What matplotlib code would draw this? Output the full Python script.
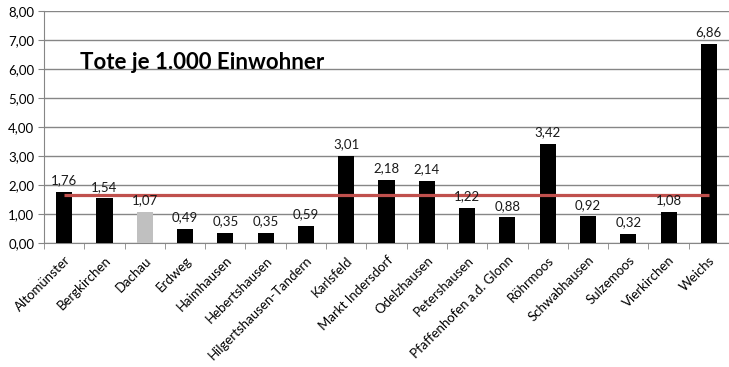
import matplotlib
matplotlib.use('Agg')
import matplotlib.pyplot as plt

# data
gemeinden = ['Altomünster', 'Bergkirchen', 'Dachau', 'Erdweg', 'Haimhausen',
             'Hebertshausen', 'Hilgertshausen-Tandern', 'Karlsfeld',
             'Markt Indersdorf', 'Odelzhausen', 'Petershausen',
             'Pfaffenhofen a.d. Glonn', 'Röhrmoos', 'Schwabhausen',
             'Sulzemoos', 'Vierkirchen', 'Weichs']
tote_je_1000 = [1.76, 1.54, 1.07, 0.49, 0.35, 0.35, 0.59, 3.01, 2.18, 2.14,
                1.22, 0.88, 3.42, 0.92, 0.32, 1.08, 6.86]
durchschnitt = 1.66  # red reference line (county average)
y_ticks = [0, 1, 2, 3, 4, 5, 6, 7, 8]

plt.rcParams['font.family'] = ['Lato', 'DejaVu Sans']

fig = plt.figure(figsize=(7.29, 3.67), dpi=100)
ax = fig.add_axes([0.0604, 0.338, 0.9396, 0.632])

colors = ['#c0c0c0' if g == 'Dachau' else 'black' for g in gemeinden]
x = list(range(len(gemeinden)))
bars = ax.bar(x, tote_je_1000, width=0.4, color=colors, zorder=3)

for xi, v in zip(x, tote_je_1000):
    ax.annotate(f'{v:.2f}'.replace('.', ','), (xi, v), xytext=(0, 4),
                textcoords='offset points', ha='center', va='bottom',
                fontsize=9.5, color='#1a1a1a', zorder=5)

ax.plot([x[0], x[-1]], [durchschnitt, durchschnitt], color='#c0504d',
        linewidth=2.3, zorder=4, solid_capstyle='butt')

ax.set_xlim(-0.5, len(gemeinden) - 0.5)
ax.set_ylim(0, 8)
ax.set_yticks(y_ticks)
ax.set_yticklabels([f'{t:.2f}'.replace('.', ',') for t in y_ticks], fontsize=9.5)
ax.yaxis.grid(True, color='#868686', linewidth=1, zorder=0)

ax.set_xticks(x)
ax.set_xticklabels(gemeinden, rotation=45, ha='right', rotation_mode='anchor',
                   fontsize=9.5)
ax.tick_params(axis='x', length=0, pad=8)
ax.set_xticks([i - 0.5 for i in range(len(gemeinden) + 1)], minor=True)
ax.tick_params(axis='x', which='minor', length=4, color='#868686')
ax.tick_params(axis='y', length=4, color='#868686', pad=3)

for s in ['top', 'right']:
    ax.spines[s].set_visible(False)
for s in ['left', 'bottom']:
    ax.spines[s].set_color('#868686')

ax.text(0.052, 0.78, 'Tote je 1.000 Einwohner', transform=ax.transAxes,
        fontsize=16, fontweight='bold', va='center', ha='left')

fig.savefig('out.png', dpi=100, facecolor='white')
